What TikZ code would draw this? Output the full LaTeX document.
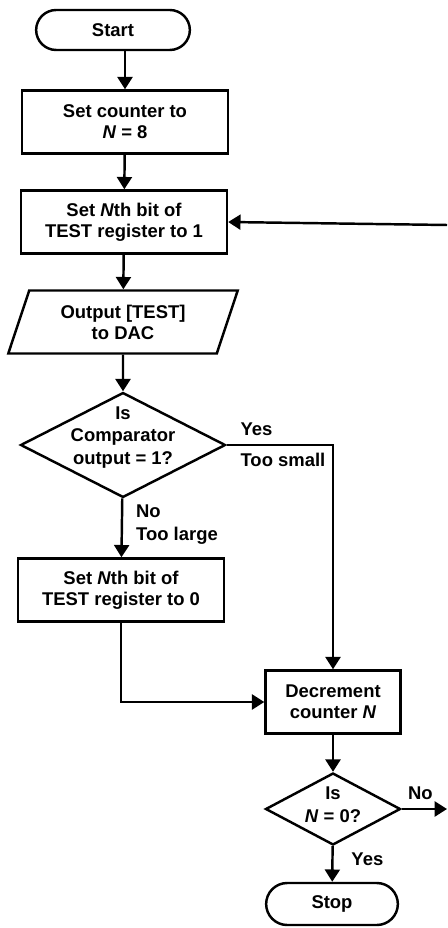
\documentclass[tikz,border=0pt]{standalone}
\usepackage{fontspec}
\setmainfont{Liberation Sans}
\usetikzlibrary{
    arrows.meta,
    positioning,
    shapes.geometric,
    shapes.misc
}
\tikzset{
  every path/.style={
    black,
    line width=1.4pt
  },
  every node/.style={
    font=\bfseries\fontsize{10.5}{12}\selectfont,
    align=center,
    inner sep=1.5pt
  },
  terminal/.style={draw, rounded rectangle, minimum height=0.8cm},
  process/.style={draw, rectangle, minimum width=4.12cm, minimum height=1.26cm},
  io/.style={draw, trapezium, trapezium left angle=70, trapezium right angle=110,
    trapezium stretches=true, minimum width=4.6cm, minimum height=1.26cm},
  decision/.style={draw, diamond, inner sep=0pt},
  flow/.style={-{Triangle[length=7pt,width=8.5pt]}}
}

\begin{document}
\begin{tikzpicture}[x=0.02cm, y=-0.02cm]
    \useasboundingbox (0,0) rectangle (447,928);

    % left column
    \node[terminal, minimum width=3.18cm] (start) at (113,30) {Start};
    \node[process] (setn) at (125,122) {Set counter to\\\textit{N} = 8};
    \node[process] (setbit) at (124,222) {Set \textit{N}th bit of\\TEST register to 1};
    \node[io] (out) at (123,322) {Output [TEST]\\to DAC};
    \node[decision, minimum width=4.1cm, minimum height=2.1cm,
      label={[yshift=0.15cm]center:Is\\[1pt]Comparator\\[1pt]output = 1?}] (cmp) at (123,445) {};
    \node[process] (clrbit) at (121,590) {Set \textit{N}th bit of\\TEST register to 0};

    % right column
    \node[process, minimum width=2.7cm] (dec) at (333,702) {Decrement\\counter \textit{N}};
    \node[decision, minimum width=2.7cm, minimum height=1.44cm,
      label={[yshift=0.08cm]center:Is\\[1pt]\textit{N} = 0?}] (iszero) at (333,809) {};
    \node[terminal, minimum width=2.74cm, minimum height=0.84cm] (stop) at (332,904) {Stop};

    % loose ends at the right edge
    \coordinate (back) at (447,225);
    \coordinate (noend) at (447,809);

    % connectors
    \draw[flow] (start.south -| setn.north) -- (setn);
    \draw[flow] (setn) -- (setbit);
    \draw[flow] (setbit) -- (out);
    \draw[flow] (out) -- (cmp);
    \draw[flow] (cmp) -- node[pos=0, below right=0.05cm and 0.2cm, align=left] {No\\[1pt]Too large} (clrbit);
    \draw[flow] (cmp.east) node[above right=0.1cm and 0.2cm] {Yes}
      node[below right=0.08cm and 0.2cm] {Too small} -| (dec.north);
    \draw[flow] (clrbit.south) |- (dec.west);
    \draw[flow] (dec) -- (iszero);
    \draw[flow] (iszero) -- node[pos=0, below right=0.05cm and 0.3cm] {Yes} (stop);
    \draw[flow] (iszero.east) node[above right=0.1cm and 0.05cm] {No} -- (noend);
    \draw[flow] (back) -- (setbit.east);
\end{tikzpicture}
\end{document}
